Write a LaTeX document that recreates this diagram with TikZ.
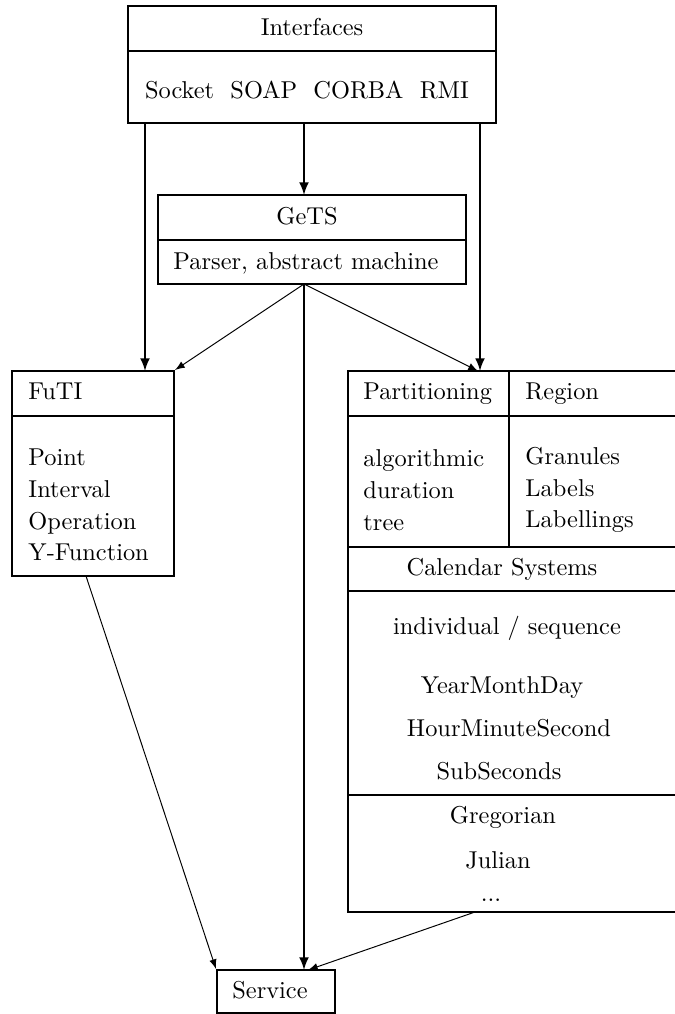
\documentclass[tikz,border=0pt]{standalone}
\usetikzlibrary{fit}

\begin{document}
\begin{tikzpicture}[x=0.41pt, y=-0.41pt,
    box/.style={draw, line width=0.8pt, inner sep=0pt},
    divider/.style={line width=0.8pt},
    txt/.style={inner sep=0pt, text height=1.6ex, text depth=0.4ex},
    lst/.style={inner sep=0pt, align=left, font=\fontsize{10}{13}\selectfont},
    boldarrow/.style={-latex, line width=0.8pt},
    thinarrow/.style={-latex}]
    \useasboundingbox (0,0) rectangle (674,1014);

    % Interfaces
    \node[box, fit={(128,6) (496,123)}] (interfaces) {};
    \draw[divider] (128,51) -- (496,51);
    \node[txt] (ifctitle) at (312,29) {Interfaces};
    \node[txt] (ifclist) at (307,92) {Socket\ \ SOAP\ \ CORBA\ \ RMI};

    % GeTS
    \node[box, fit={(158,195) (466,284)}] (gets) {};
    \draw[divider] (158,240) -- (466,240);
    \node[txt] (getstitle) at (307,218) {GeTS};
    \node[txt] (getsbody) at (306,263) {Parser, abstract machine};

    % FuTI
    \node[box, fit={(12,371) (174,576)}] (futi) {};
    \draw[divider] (12,416) -- (174,416);
    \node[txt, anchor=west] (futititle) at (28,393) {FuTI};
    \node[lst, anchor=west] (futibody) at (28,505) {Point\\Interval\\Operation\\Y-Function};

    % Partitioning, Region, Calendar Systems
    \node[box, fit={(348,371) (690,912)}] (calendar) {};
    \draw[divider] (348,416) -- (690,416);
    \draw[divider] (509,371) -- (509,547);
    \draw[divider] (348,547) -- (690,547);
    \draw[divider] (348,591) -- (690,591);
    \draw[divider] (348,795) -- (690,795);
    \node[txt, anchor=west] (parttitle) at (363,393) {Partitioning};
    \node[txt, anchor=west] (regtitle) at (525,393) {Region};
    \node[lst, anchor=west] (partbody) at (363,490) {algorithmic\\duration\\tree};
    \node[lst, anchor=west] (regbody) at (525,490) {Granules\\Labels\\Labellings};
    \node[txt] (caltitle) at (502,569) {Calendar Systems};
    \node[txt] (calindiv) at (507,628) {individual / sequence};
    \node[txt] (calymd) at (502,687) {YearMonthDay};
    \node[txt] (calhms) at (509,730) {HourMinuteSecond};
    \node[txt] (calsub) at (499,773) {SubSeconds};
    \node[txt] (calgreg) at (503,817) {Gregorian};
    \node[txt] (caljul) at (498,862) {Julian};
    \node[txt] (caldots) at (491,895) {...};

    % Service
    \node[box, fit={(217,970) (335,1013)}] (service) {};
    \node[txt] (servtext) at (270,992) {Service};

    % Anschlusspunkte
    \coordinate (ifc-a) at (145,123);
    \coordinate (ifc-b) at (304,123);
    \coordinate (ifc-c) at (480,123);
    \coordinate (gets-in) at (304,195);
    \coordinate (gets-out) at (304,284);
    \coordinate (futi-in) at (145,371);
    \coordinate (part-in) at (480,371);
    \coordinate (part-in2) at (478,371);
    \coordinate (futi-out) at (86,576);
    \coordinate (cal-out) at (475,912);
    \coordinate (serv-in) at (304,970);
    \coordinate (serv-in2) at (308,970);

    % Verbindungen
    \draw[boldarrow] (ifc-b) -- (gets-in);
    \draw[boldarrow] (ifc-a) -- (futi-in);
    \draw[boldarrow] (ifc-c) -- (part-in);
    \draw[thinarrow] (gets-out) -- (futi.north east);
    \draw[thinarrow] (gets-out) -- (part-in2);
    \draw[boldarrow] (gets-out) -- (serv-in);
    \draw[thinarrow] (futi-out) -- (service.north west);
    \draw[thinarrow] (cal-out) -- (serv-in2);
\end{tikzpicture}
\end{document}
